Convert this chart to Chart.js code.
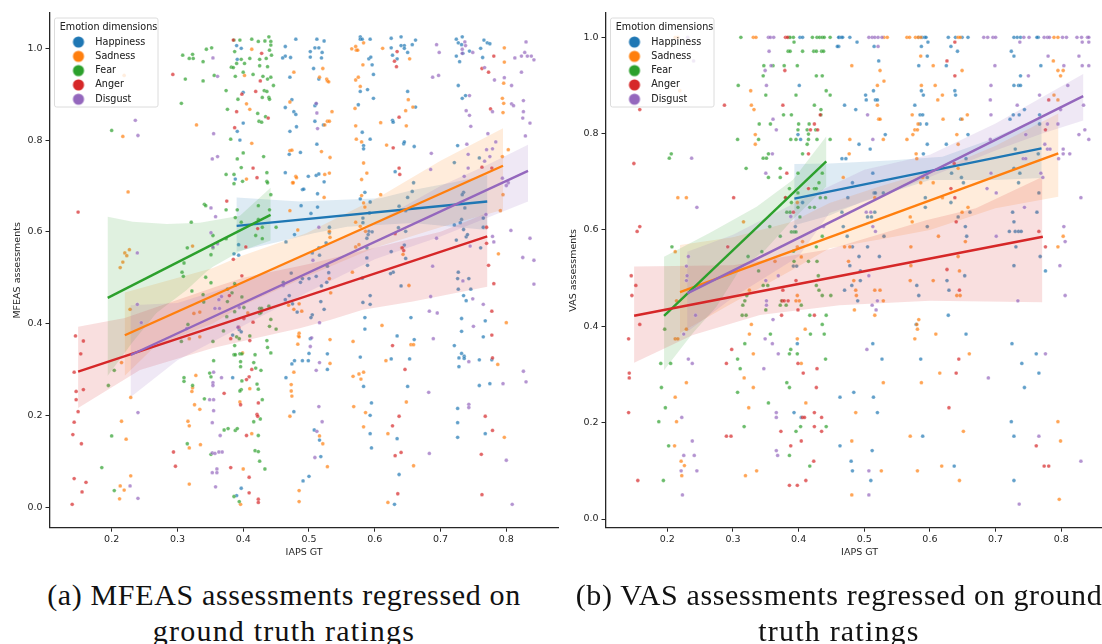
<!DOCTYPE html>
<html>
<head>
<meta charset="utf-8">
<script src="https://cdn.jsdelivr.net/npm/chart.js"></script>
<style>
  body { margin: 0; background: #fff; width: 1102px; height: 644px; overflow: hidden; position: relative; }
  canvas { position: absolute; top: 0; }
  #chartA { left: 0; }
  #chartB { left: 556px; }
  .caption { position: absolute; top: 577px; text-align: center; font: 30px/36px "Liberation Serif", serif; letter-spacing: 0.65px; color: #111; white-space: nowrap; }
  .caption span { letter-spacing: 1.2px; }
  #capA { left: 0; width: 568px; }
  #capB { left: 556px; width: 566px; }
</style>
</head>
<body>
<canvas id="chartA" width="563" height="565"></canvas>
<canvas id="chartB" width="562" height="565"></canvas>
<div class="caption" id="capA">(a) MFEAS assessments regressed on<br><span>ground truth ratings</span></div>
<div class="caption" id="capB">(b) VAS assessments regressed on ground<br><span>truth ratings</span></div>
<script>
const seriesNames = ['Happiness', 'Sadness', 'Fear', 'Anger', 'Disgust'];
const seriesColors = ['31,119,180', '255,127,14', '44,160,44', '214,39,40', '148,103,189'];
const xTicks = [0.2, 0.3, 0.4, 0.5, 0.6, 0.7, 0.8];
const yTicks = [0, 0.2, 0.4, 0.6, 0.8, 1];

// MFEAS panel, points
const mfeasHappiness = [[.39,1.006],[.397,1],[.391,.976],[.4,.904],[.4,.837],[.391,.819],[.395,.8],[.388,.715],[.464,1.004],[.48,1.02],[.464,.983],[.46,.979],[.472,.98],[.471,.937],[.474,.888],[.464,.871],[.477,.862],[.48,.856],[.481,.829],[.471,.819],[.47,.769],[.464,.729],[.478,.594],[.465,.578],[.393,.572],[.386,.552],[.393,.549],
[.512,1.02],[.523,1.016],[.509,1.001],[.515,1.001],[.502,.993],[.52,.991],[.502,.981],[.519,.979],[.507,.956],[.515,.933],[.509,.875],[.511,.879],[.509,.841],[.522,.833],[.512,.791],[.487,.773],[.499,.721],[.511,.723],[.515,.726],[.523,.709],[.49,.692],[.492,.693],[.513,.683],[.488,.657],[.503,.64],[.513,.654],[.531,.61],[.515,.565],[.531,.598],[.526,.576],[.516,.549],[.528,.525],[.505,.554],
[.578,1.025],[.578,1.02],[.581,1.02],[.593,1.02],[.591,.977],[.594,.981],[.596,.964],[.598,.943],[.578,.906],[.589,.91],[.598,.891],[.575,.877],[.581,.817],[.593,.802],[.583,.788],[.583,.781],[.585,.686],[.578,.672],[.593,.665],[.592,.641],[.591,.601],[.596,.6],[.582,.63],[.582,.62],[.59,.594],[.588,.586],[.588,.565],[.588,.543],[.589,.527],
[.625,1.022],[.64,1.025],[.625,1.001],[.64,1.006],[.645,1.006],[.645,1],[.657,1.008],[.662,1.018],[.65,.991],[.627,.985],[.634,.977],[.65,.906],[.662,.872],[.627,.843],[.628,.839],[.644,.792],[.645,.796],[.66,.786],[.631,.731],[.659,.707],[.657,.688],[.65,.675],[.637,.656],[.647,.646],[.636,.609],[.647,.601],[.625,.557],[.645,.571],[.647,.542],
[.724,1.02],[.733,1.025],[.727,1.012],[.732,1.008],[.724,.983],[.734,.989],[.744,.994],[.729,.971],[.727,.919],[.738,.897],[.733,.891],[.726,.788],[.721,.751],[.735,.686],[.733,.681],[.737,.652],[.732,.627],[.73,.62],[.721,.615],[.735,.605],[.739,.589],[.741,.594],[.724,.582],[.761,1],[.766,1.018],[.771,1.012],[.775,1.01],[.764,.98],[.759,.761],[.765,.63],[.765,.61],[.761,.565],
[.384,.375],[.394,.387],[.397,.382],[.384,.282],[.39,.025],[.397,.041],[.464,.452],[.47,.461],[.475,.443],[.482,.425],[.474,.312],[.478,.319],[.465,.282],[.477,.208],[.473,.51],[.461,.49],
[.53,.511],[.5,.498],[.49,.498],[.511,.503],[.527,.49],[.519,.482],[.487,.49],[.518,.448],[.523,.431],[.505,.419],[.503,.413],[.502,.367],[.5,.335],[.528,.334],[.49,.319],[.499,.319],[.528,.3],[.508,.168],[.516,.146],[.518,.11],[.5,.067],[.491,.057],
[.585,.413],[.585,.388],[.593,.461],[.582,.446],[.593,.442],[.581,.499],[.628,.512],[.624,.509],[.64,.482],[.655,.413],[.634,.373],[.66,.365],[.578,.327],[.625,.323],[.653,.323],[.583,.263],[.65,.263],[.595,.227],[.593,.2],[.593,.16],[.634,.149],[.595,.129],[.637,.071],[.63,.006],
[.727,.512],[.726,.498],[.743,.498],[.727,.475],[.746,.475],[.735,.461],[.739,.45],[.732,.411],[.732,.383],[.721,.352],[.732,.335],[.736,.329],[.736,.324],[.728,.325],[.728,.306],[.759,.321],[.778,.321],[.768,.406],[.765,.371],[.759,.265],[.775,.269],[.726,.215],[.726,.184],[.726,.152],[.768,.16]];

const mfeasSadness = [[.219,.941],[.402,.941],[.413,.998],[.217,.808],[.329,.833],[.405,.879],[.41,.867],[.413,.793],[.225,.687],[.405,.715],[.471,.777],[.477,.948],[.471,.883],[.48,.721],[.475,.707],[.471,.646],[.483,.604],[.227,.561],[.22,.554],[.223,.548],[.217,.534],[.213,.522],[.323,.569],
[.565,.999],[.571,1.004],[.572,.996],[.574,.996],[.583,1.012],[.612,1],[.582,.964],[.653,.977],[.521,.956],[.516,.937],[.527,.933],[.528,.929],[.53,.927],[.571,.931],[.575,.937],[.578,.917],[.651,.888],[.658,.872],[.647,.864],[.57,.869],[.535,.862],[.528,.841],[.531,.841],[.524,.833],[.571,.831],[.609,.838],[.648,.831],[.572,.802],[.58,.796],[.618,.789],[.474,.778],[.519,.775],[.532,.762],[.583,.75],[.481,.718],[.476,.707],[.524,.725],[.531,.728],[.588,.728],[.58,.714],[.523,.675],[.58,.679],[.609,.681],[.583,.663],[.585,.654],[.571,.621],[.578,.612],[.531,.601],[.532,.588],[.586,.601],[.576,.572],[.571,.567],[.641,.565],[.643,.551],
[.797,1.001],[.797,.97],[.796,.924],[.794,.891],[.796,.88],[.795,.86],[.803,.779],[.794,.764],[.795,.681],[.791,.646],[.788,.552],
[.228,.431],[.325,.422],[.334,.425],[.318,.367],[.334,.371],[.215,.315],[.229,.239],[.328,.287],[.323,.26],[.322,.252],[.326,.223],[.334,.213],[.316,.187],[.318,.177],[.215,.187],[.222,.148],[.335,.136],[.318,.129],[.229,.068],[.318,.05],[.213,.046],[.219,.037],[.212,.018],[.399,.336],[.41,.258],[.395,.229],[.413,.16],[.4,.083],[.396,.006],[.477,.431],[.483,.355],[.484,.373],[.477,.294],[.473,.267],[.473,.253],[.474,.242],[.471,.198],[.407,.423],
[.566,.512],[.652,.483],[.485,.379],[.485,.371],[.532,.365],[.567,.361],[.611,.396],[.655,.354],[.659,.354],[.8,.402],[.532,.313],[.567,.285],[.576,.29],[.583,.294],[.579,.279],[.568,.219],[.586,.206],[.648,.229],[.583,.175],[.62,.16],[.516,.155],[.521,.138],[.528,.088],[.659,.09],[.485,.036],[.485,.012],[.62,.01],[.617,.319],[.787,.311],[.797,.152],[.533,.467],[.531,.498],[.485,.443],[.489,.427],[.469,.44]];

const mfeasFear = [[.308,.985],[.318,.978],[.323,.987],[.324,.978],[.339,.971],[.344,.998],[.352,1.001],[.312,.933],[.339,.929],[.356,.941],[.306,.88],[.374,.908],[.376,.867],[.392,.889],[.2,.821],[.381,.802],[.4,.772],[.391,.759],[.397,.74],[.431,.764],[.374,.725],[.386,.725],[.386,.705],[.399,.71],[.436,.729],[.436,.71],[.437,.707],[.442,.681],[.341,.66],[.343,.657],[.374,.648],[.391,.648],[.423,.657],[.44,.648],[.321,.621],[.388,.631],[.397,.621],[.423,.627],[.45,.61],[.429,.61],[.419,.592],[.429,.585],[.354,.592],[.374,.585],[.315,.565],[.354,.565],[.351,.55],[.31,.532],
[.386,1.018],[.395,1.018],[.413,1.02],[.423,1.015],[.433,1.016],[.439,1.025],[.442,1.015],[.442,1.007],[.44,.996],[.387,.993],[.397,.976],[.41,.978],[.425,.976],[.435,.978],[.443,.985],[.402,.967],[.425,.962],[.437,.96],[.382,.959],[.385,.958],[.39,.967],[.4,.948],[.388,.939],[.415,.943],[.43,.939],[.437,.933],[.442,.937],[.446,.919],[.432,.908],[.436,.906],[.429,.893],[.439,.893],[.44,.889],[.422,.858],[.434,.851],[.424,.841],[.428,.839],
[.307,.512],[.309,.503],[.322,.471],[.339,.463],[.34,.447],[.343,.501],[.351,.489],[.376,.475],[.376,.448],[.383,.467],[.387,.487],[.388,.484],[.398,.458],[.401,.435],[.387,.426],[.375,.415],[.316,.398],[.306,.361],[.354,.361],[.37,.384],[.387,.352],[.39,.371],[.394,.367],[.41,.373],[.425,.433],[.428,.433],[.425,.422],[.427,.424],[.439,.438],[.442,.409],[.44,.394],[.45,.388],[.436,.363],[.437,.348],[.442,.336],[.386,.332],[.388,.332],[.395,.334],[.398,.334],[.418,.332],[.355,.319],[.396,.317],[.396,.306],[.416,.315],[.419,.303],[.427,.298],[.349,.292],[.351,.284],[.31,.282],[.31,.274],[.323,.265],[.204,.298],[.195,.265],[.421,.268],[.423,.257],[.398,.275],[.397,.256],[.395,.253],[.341,.236],[.429,.234],[.426,.192],[.416,.186],[.2,.155],[.371,.168],[.377,.171],[.388,.167],[.391,.171],[.423,.156],[.315,.138],[.351,.115],[.418,.123],[.423,.121],[.425,.1],[.433,.083],[.185,.086],[.204,.036],[.386,.023],[.394,.012]];

const mfeasAnger = [[.385,1.018],[.428,.989],[.293,.943],[.398,.9],[.419,.906],[.426,.929],[.39,.862],[.438,.848],[.387,.827],[.149,.643],[.375,.667],[.415,.739],[.421,.718],[.422,.607],[.404,.567],[.385,.54],
[.634,.993],[.63,.972],[.633,.96],[.781,.983],[.763,.956],[.773,.948],[.776,.868],[.637,.85],[.628,.783],[.637,.739],[.638,.725],[.763,.741],[.778,.739],[.77,.61],[.77,.575],[.631,.596],[.642,.565],[.644,.559],[.773,.527],
[.145,.373],[.157,.362],[.153,.334],[.143,.294],[.157,.256],[.146,.252],[.146,.234],[.149,.208],[.143,.185],[.141,.158],[.154,.138],[.143,.062],[.161,.054],[.155,.033],[.14,.006],[.294,.12],[.297,.089],[.379,.461],[.398,.504],[.381,.367],[.41,.363],[.415,.403],[.401,.411],[.393,.392],[.413,.3],[.409,.284],[.405,.278],[.371,.248],[.396,.223],[.423,.227],[.421,.202],[.422,.198],[.405,.156],[.381,.086],[.409,.065],[.409,.031],[.423,.017],[.423,.01],
[.781,.487],[.778,.427],[.778,.375],[.779,.325],[.627,.352],[.646,.3],[.637,.198],[.627,.177],[.768,.198],[.779,.167],[.631,.112],[.64,.119],[.762,.115],[.635,.029],[.763,.027]];

const mfeasDisgust = [[.354,.979],[.361,.939],[.236,.843],[.24,.81],[.355,.814],[.353,.759],[.361,.764],[.351,.652],[.358,.633],[.351,.598],[.354,.567],[.361,.574],[.239,.554],
[.694,1.008],[.698,.991],[.737,1.014],[.738,1.006],[.733,.998],[.733,.989],[.749,.991],[.83,1.014],[.828,.991],[.823,.983],[.832,.983],[.838,.983],[.813,.979],[.842,.975],[.823,.948],[.767,.958],[.688,.937],[.697,.941],[.782,.931],[.797,.936],[.808,.919],[.744,.897],[.808,.879],[.811,.875],[.826,.886],[.826,.862],[.825,.848],[.739,.864],[.744,.854],[.779,.862],[.836,.837],[.746,.83],[.772,.814],[.829,.809],[.686,.771],[.74,.791],[.742,.769],[.77,.779],[.779,.781],[.784,.796],[.775,.764],[.767,.754],[.742,.739],[.685,.736],[.736,.721],[.794,.717],[.803,.707],[.8,.701],[.511,.88],[.512,.859],[.513,.825],[.515,.61],[.807,.603],[.836,.586],[.779,.59],[.781,.578],[.694,.586],[.745,.569],[.825,.544],[.842,.538],[.688,.525],[.506,.538],[.769,.638],
[.239,.442],[.245,.402],[.24,.206],[.228,.046],[.24,.019],[.357,.433],[.364,.433],[.363,.452],[.367,.459],[.394,.435],[.367,.282],[.354,.271],[.354,.265],[.355,.294],[.349,.234],[.355,.234],[.355,.21],[.353,.184],[.365,.156],[.353,.118],[.357,.117],[.363,.12],[.368,.12],[.36,.083],[.353,.075],[.36,.075],[.358,.044],[.461,.483],[.314,.389],[.392,.392],
[.842,.486],[.734,.493],[.685,.459],[.749,.454],[.765,.442],[.683,.427],[.695,.423],[.516,.402],[.75,.394],[.504,.369],[.502,.35],[.689,.367],[.516,.315],[.511,.298],[.743,.317],[.826,.296],[.83,.273],[.795,.269],[.682,.25],[.515,.219],[.743,.224],[.743,.217],[.52,.186],[.512,.165],[.509,.108],[.683,.117],[.8,.102],[.809,.006]];

const mfeasFits = [
  [[.39,.613],[.771,.666]],
  [[.22,.3745],[.795,.744]],
  [[.194,.456],[.4416,.637]],
  [[.149,.295],[.771,.59]],
  [[.229,.3315],[.833,.733]]
];
const mfeasUpper = [
  [[.39,.675],[.486,.666],[.532,.669],[.608,.673],[.658,.691],[.72,.708],[.771,.724]],
  [[.22,.4675],[.354,.521],[.395,.546],[.496,.597],[.608,.677],[.7,.755],[.795,.826]],
  [[.194,.633],[.232,.622],[.284,.617],[.334,.62],[.395,.635],[.4416,.696]],
  [[.149,.393],[.22,.412],[.354,.478],[.4,.5],[.5,.53],[.6,.565],[.7,.6],[.771,.641]],
  [[.229,.44],[.3,.445],[.4,.49],[.5,.555],[.6,.62],[.7,.7],[.77,.745],[.833,.79]]
];
const mfeasLower = [
  [[.39,.557],[.456,.579],[.507,.597],[.558,.611],[.658,.619],[.771,.604]],
  [[.22,.286],[.268,.353],[.354,.4],[.4,.44],[.5,.505],[.6,.565],[.7,.61],[.795,.648]],
  [[.194,.286],[.232,.36],[.268,.423],[.314,.473],[.344,.513],[.354,.524],[.395,.557],[.4416,.581]],
  [[.149,.216],[.243,.299],[.354,.347],[.425,.37],[.486,.39],[.532,.408],[.582,.43],[.658,.448],[.771,.48]],
  [[.229,.24],[.3,.32],[.4,.395],[.5,.47],[.6,.54],[.7,.59],[.833,.666]]
];

// VAS panel
const vasHappiness = [[.402,1],[.406,1],[.462,1],[.461,1],[.465,1],[.467,1],[.478,1],[.583,1],[.588,1],[.592,1],[.594,1],[.628,1],[.639,1],[.649,1],[.658,1],[.728,1],[.733,1],[.738,1],[.765,1],[.763,1],
[.461,.981],[.401,.9],[.399,.798],[.403,.788],[.406,.657],[.395,.607],[.392,.525],[.397,.525],
[.459,.981],[.489,.99],[.515,.981],[.597,.99],[.587,.981],[.632,.981],[.642,.971],[.724,.971],[.728,.961],[.522,.951],[.596,.961],[.583,.941],[.625,.941],[.769,.941],[.738,.92],[.728,.9],[.735,.9],[.738,.9],[.514,.889],[.587,.889],[.638,.889],[.502,.88],[.59,.88],[.639,.88],[.503,.87],[.517,.87],[.52,.87],[.47,.859],[.577,.859],[.487,.85],[.744,.85],[.585,.839],[.589,.839],[.727,.839],[.736,.839],[.767,.839],[.722,.83],[.647,.83],[.585,.82],[.595,.82],[.767,.82],[.532,.798],[.658,.798],[.492,.778],[.596,.778],[.625,.778],[.509,.768],[.466,.748],[.472,.748],[.59,.758],[.765,.758],[.73,.768],[.655,.748],[.513,.718],[.633,.718],[.728,.728],[.737,.718],[.482,.698],[.596,.709],[.648,.709],[.651,.698],[.735,.698],[.515,.677],[.517,.677],[.529,.677],[.475,.667],[.593,.667],[.632,.657],[.766,.677],[.466,.637],[.516,.637],[.505,.627],[.511,.627],[.593,.647],[.661,.637],[.726,.637],[.763,.637],[.643,.627],[.728,.617],[.596,.607],[.654,.607],[.468,.607],[.474,.587],[.53,.587],[.656,.587],[.721,.597],[.73,.597],[.735,.597],[.739,.597],[.482,.565],[.505,.565],[.731,.565],[.492,.545],[.523,.545],[.768,.545],[.478,.526],[.728,.526],
[.398,.364],[.393,.221],[.404,.211],
[.494,.515],[.776,.515],[.653,.505],[.494,.495],[.481,.485],[.47,.475],[.58,.485],[.626,.495],[.629,.475],[.583,.464],[.49,.453],[.628,.423],[.579,.404],[.655,.384],[.513,.364],[.725,.364],[.527,.332],[.586,.332],[.762,.343],[.74,.323],[.766,.303],[.744,.273],[.484,.263],[.463,.253],[.514,.253],[.52,.221],[.724,.202],[.728,.172],[.589,.172],[.463,.152],[.512,.142],[.48,.12],[.482,.1],[.637,.11],[.51,.08],[.728,.08]];

const vasSadness = [[.212,1],[.216,1],[.331,1],[.335,1],[.53,1],[.535,1],[.565,1],[.569,1],[.578,1],[.582,1],[.586,1],[.643,1],[.646,1],[.789,1],[.795,1],
[.219,.889],[.327,.889],[.328,.859],[.332,.85],[.334,.798],[.334,.778],[.216,.667],[.229,.667],[.398,.657],[.316,.617],[.212,.555],[.398,.565],[.406,.576],[.364,.535],[.404,.544],
[.481,.941],[.524,.931],[.53,.909],[.52,.9],[.586,.961],[.605,.941],[.649,.931],[.587,.9],[.608,.9],[.619,.88],[.612,.87],[.52,.859],[.573,.839],[.657,.839],[.522,.83],[.524,.83],[.62,.83],[.649,.83],[.582,.82],[.577,.808],[.581,.808],[.574,.798],[.565,.788],[.478,.788],[.529,.788],[.641,.798],[.643,.778],[.477,.758],[.579,.758],[.58,.748],[.643,.728],[.468,.709],[.586,.698],[.589,.709],[.605,.698],[.619,.667],[.516,.667],[.658,.647],[.649,.637],[.57,.627],[.573,.617],[.613,.587],[.654,.576],[.47,.565],[.478,.565],[.571,.565],[.476,.535],[.643,.545],[.571,.526],[.788,.951],[.795,.931],[.803,.931],[.799,.92],[.789,.88],[.795,.87],[.803,.587],[.795,.565],
[.325,.475],[.398,.464],[.214,.453],[.396,.453],[.401,.453],[.328,.404],[.325,.384],[.41,.394],[.229,.394],[.212,.374],[.216,.374],[.398,.374],[.331,.343],[.404,.323],[.317,.293],[.229,.283],[.331,.273],[.212,.253],[.411,.241],[.324,.231],[.214,.202],[.211,.152],[.221,.12],[.226,.111],[.222,.09],[.336,.1],[.319,.09],
[.645,.515],[.57,.495],[.605,.495],[.484,.495],[.487,.475],[.516,.475],[.524,.475],[.488,.464],[.529,.453],[.641,.464],[.646,.464],[.485,.434],[.516,.423],[.583,.414],[.58,.404],[.581,.394],[.609,.384],[.577,.374],[.66,.343],[.615,.303],[.529,.283],[.587,.283],[.487,.221],[.795,.202],[.651,.182],[.57,.172],[.481,.162],[.799,.162],[.618,.11],[.526,.1],[.581,.1],[.645,.08],[.481,.05],[.797,.041]];

const vasFear = [[.312,1],[.385,1],[.387,1],[.392,1],[.421,1],[.428,1],[.432,1],[.436,1],[.439,1],[.448,1],
[.393,.99],[.384,.971],[.387,.971],[.406,.971],[.423,.971],[.427,.971],[.435,.971],[.438,.971],[.347,.941],[.361,.941],[.378,.941],[.398,.941],[.346,.92],[.427,.92],[.436,.92],[.308,.9],[.35,.88],[.396,.88],[.442,.889],[.448,.88],[.424,.859],[.434,.85],[.377,.839],[.389,.839],[.434,.839],[.34,.82],[.357,.82],[.4,.82],[.416,.82],[.399,.808],[.413,.808],[.426,.808],[.307,.788],[.339,.788],[.388,.788],[.396,.788],[.415,.799],[.413,.778],[.415,.788],[.428,.788],[.448,.788],[.206,.758],[.203,.749],[.346,.749],[.351,.749],[.354,.758],[.406,.758],[.32,.728],[.372,.728],[.399,.718],[.436,.718],[.354,.709],[.372,.709],[.431,.698],[.386,.686],[.424,.686],[.427,.686],[.399,.677],[.433,.667],[.441,.667],[.38,.667],[.389,.657],[.399,.647],[.417,.647],[.424,.647],[.382,.637],[.387,.637],[.402,.627],[.356,.607],[.389,.596],[.393,.596],[.396,.596],[.372,.587],[.436,.587],[.207,.565],[.427,.565],[.392,.556],[.323,.545],[.344,.555],[.393,.535],[.415,.535],[.428,.535],
[.339,.515],[.346,.485],[.353,.485],[.431,.475],[.427,.485],[.43,.505],[.436,.464],[.449,.464],[.321,.464],[.318,.453],[.315,.444],[.35,.434],[.374,.453],[.372,.444],[.381,.444],[.404,.444],[.314,.423],[.32,.423],[.417,.423],[.442,.423],[.436,.404],[.196,.394],[.357,.384],[.418,.384],[.439,.384],[.318,.364],[.388,.352],[.386,.343],[.398,.343],[.307,.332],[.441,.332],[.19,.323],[.205,.323],[.311,.312],[.382,.283],[.386,.273],[.191,.273],[.307,.263],[.354,.241],[.197,.231],[.187,.202],[.317,.192],[.403,.192],[.442,.192],[.396,.182],[.202,.152],[.386,.132],[.417,.11],[.194,.08]];

const vasAnger = [[.38,1],[.383,1],
[.379,.931],[.287,.859],[.158,.85],[.376,.859],[.433,.839],[.424,.82],[.418,.808],[.429,.808],[.149,.738],[.415,.758],[.382,.718],[.415,.686],[.301,.667],[.38,.667],[.392,.637],[.158,.607],[.154,.597],[.292,.565],
[.638,.99],[.626,.951],[.638,.92],[.781,.87],[.776,.808],[.637,.738],[.632,.686],[.638,.667],[.64,.617],[.766,.597],[.776,.565],[.626,.518],
[.145,.505],[.152,.485],[.146,.464],[.158,.404],[.141,.374],[.142,.303],[.142,.293],[.141,.221],[.155,.08],[.298,.352],[.29,.323],[.29,.172],[.297,.172],[.396,.495],[.376,.475],[.375,.453],[.378,.453],[.384,.453],[.399,.434],[.374,.423],[.424,.423],[.399,.323],[.407,.303],[.428,.312],[.427,.273],[.406,.211],[.409,.211],[.424,.221],[.435,.211],[.424,.192],[.373,.182],[.435,.182],[.404,.162],[.388,.152],[.423,.12],[.411,.08],[.386,.07],[.398,.07],
[.645,.475],[.644,.332],[.64,.303],[.629,.231],[.762,.152],[.774,.11],[.781,.11]];

const vasDisgust = [[.354,1],[.357,1],[.362,1],[.231,1],[.507,1],[.512,1],[.516,1],[.521,1],[.527,1],[.682,1],[.688,1],[.696,1],[.7,1],[.743,1],[.751,1],[.774,1],[.779,1],[.782,1],[.802,1],[.808,1],[.824,1],[.831,1],[.84,1],[.842,1],
[.355,.971],[.24,.951],[.358,.941],[.349,.931],[.351,.9],[.361,.83],[.366,.808],[.237,.749],[.36,.758],[.35,.718],[.245,.647],[.388,.628],[.232,.545],[.229,.525],[.438,.607],
[.737,.99],[.521,.981],[.832,.99],[.842,.99],[.78,.961],[.827,.961],[.699,.941],[.804,.941],[.832,.941],[.842,.941],[.75,.92],[.693,.9],[.81,.9],[.767,.88],[.692,.87],[.733,.859],[.834,.859],[.799,.85],[.505,.839],[.693,.839],[.779,.82],[.795,.82],[.746,.798],[.836,.808],[.827,.798],[.513,.788],[.692,.788],[.842,.788],[.775,.778],[.779,.768],[.783,.768],[.803,.768],[.803,.758],[.813,.758],[.742,.748],[.746,.748],[.796,.748],[.693,.718],[.769,.718],[.772,.709],[.687,.686],[.701,.677],[.83,.667],[.744,.647],[.503,.637],[.51,.637],[.513,.607],[.517,.597],[.804,.607],[.701,.587],[.806,.576],[.798,.526],
[.23,.505],[.229,.495],[.35,.495],[.369,.505],[.351,.453],[.351,.444],[.243,.423],[.361,.414],[.225,.384],[.349,.374],[.36,.364],[.369,.343],[.232,.332],[.238,.323],[.347,.312],[.366,.221],[.366,.211],[.222,.211],[.238,.162],[.366,.142],[.368,.132],[.225,.132],[.241,.132],[.221,.1],[.245,.1],[.223,.05],
[.507,.505],[.52,.453],[.512,.444],[.518,.434],[.734,.453],[.806,.464],[.504,.352],[.776,.343],[.689,.293],[.766,.172],[.507,.1],[.83,.12],[.507,.05],[.736,.031]];

const vasFits = [
  [[.3935,.665],[.77,.7695]],
  [[.2193,.471],[.7955,.759]],
  [[.195,.4215],[.4421,.7426]],
  [[.1494,.422],[.772,.586]],
  [[.2304,.4685],[.8335,.878]]
];
const vasUpper = [
  [[.3935,.737],[.447,.738],[.538,.744],[.619,.752],[.69,.787],[.77,.835]],
  [[.2193,.569],[.3,.585],[.39,.617],[.447,.656],[.523,.69],[.624,.731],[.7,.775],[.7955,.842]],
  [[.195,.5445],[.265,.594],[.336,.648],[.391,.704],[.442,.794]],
  [[.1494,.524],[.3,.527],[.447,.56],[.594,.62],[.67,.645],[.771,.71]],
  [[.2304,.555],[.3,.59],[.4,.66],[.5,.725],[.6,.756],[.7,.821],[.8335,.924]]
];
const vasLower = [
  [[.3935,.61],[.447,.63],[.5,.66],[.6,.704],[.7,.704],[.77,.708]],
  [[.2193,.386],[.29,.441],[.39,.517],[.447,.562],[.523,.58],[.6,.6],[.7,.645],[.7955,.669]],
  [[.195,.309],[.239,.386],[.275,.441],[.31,.517],[.35,.56],[.39,.62],[.442,.69]],
  [[.1494,.3245],[.239,.382],[.341,.4235],[.4623,.444],[.6,.453],[.771,.45]],
  [[.2304,.389],[.3,.46],[.4,.545],[.447,.635],[.523,.669],[.6,.71],[.7,.765],[.77,.8],[.8335,.827]]
];

const toXY = pts => pts.map(p => ({x: p[0], y: p[1]}));

function legendDot(rgb) {
  const c = document.createElement('canvas');
  c.width = 14;
  c.height = 14;
  const g = c.getContext('2d');
  g.fillStyle = 'rgb(' + rgb + ')';
  g.beginPath();
  g.arc(7, 7, 5.5, 0, Math.PI * 2);
  g.fill();
  return c;
}

function buildDatasets(points, fits, upper, lower) {
  const out = [];
  seriesNames.forEach((name, i) => {
    out.push({
      type: 'scatter',
      label: name,
      data: toXY(points[i]),
      backgroundColor: 'rgba(' + seriesColors[i] + ',0.7)',
      borderColor: 'rgba(255,255,255,0.6)',
      borderWidth: 0.4,
      pointRadius: 1.9,
      order: 100 - 2 * i
    });
    out.push({
      type: 'line',
      label: name + ' CI',
      data: toXY(upper[i].concat(lower[i].slice().reverse())),
      backgroundColor: 'rgba(' + seriesColors[i] + ',0.15)',
      borderWidth: 0,
      pointRadius: 0,
      fill: 'shape',
      order: 99 - 2 * i
    });
    out.push({
      type: 'line',
      label: name + ' fit',
      data: toXY(fits[i]),
      borderColor: 'rgb(' + seriesColors[i] + ')',
      borderWidth: 2.4,
      pointRadius: 0,
      fill: false,
      order: 10 - i
    });
  });
  return out;
}

// legend sits inside the axes with a matplotlib style frame over the points
const legendFrame = {
  id: 'legendFrame',
  afterLayout(chart, args, opts) {
    chart.legend.left = opts.x + 7.3;
    chart.legend.top = opts.y + 4;
    chart.legend.columnSizes[0].width = 88.4;
  },
  afterDatasetsDraw(chart, args, opts) {
    const c = chart.ctx;
    c.save();
    c.beginPath();
    c.roundRect(opts.x, opts.y, opts.w, opts.h, 2);
    c.fillStyle = 'rgba(255,255,255,0.8)';
    c.fill();
    c.strokeStyle = '#dcdcdc';
    c.lineWidth = 1;
    c.stroke();
    c.restore();
    // _draw skips the clip that draw() would put round the legend box
    chart.legend._draw();
  }
};

function makeChart(id, datasets, yName, area) {
  const dark = '#262626';
  new Chart(document.getElementById(id), {
    type: 'scatter',
    data: {datasets: datasets},
    plugins: [legendFrame],
    options: {
      responsive: false,
      animation: false,
      events: [],
      layout: {padding: {top: 13, right: area.padRight, left: 0, bottom: 0}},
      scales: {
        x: {
          type: 'linear',
          min: area.xMin,
          max: area.xMax,
          afterBuildTicks: s => { s.ticks = xTicks.map(v => ({value: v})); },
          afterFit: s => { s.height = 37.3; },
          grid: {drawOnChartArea: false, color: dark, tickLength: 4, tickWidth: 1},
          border: {color: dark, width: 1.3},
          ticks: {color: dark, font: {family: 'DejaVu Sans', size: 9.5}, padding: 2, maxRotation: 0, callback: v => v.toFixed(1)},
          title: {display: true, text: 'IAPS GT', color: dark, font: {family: 'DejaVu Sans', size: 9.5}, padding: {top: 0, bottom: 7}}
        },
        y: {
          min: area.yMin,
          max: area.yMax,
          afterBuildTicks: s => { s.ticks = yTicks.map(v => ({value: v})); },
          afterFit: s => { s.width = 49.5; },
          grid: {drawOnChartArea: false, color: dark, tickLength: 4, tickWidth: 1},
          border: {color: dark, width: 1.3},
          ticks: {color: dark, font: {family: 'DejaVu Sans', size: 9.5}, padding: 3, callback: v => v.toFixed(1)},
          title: {display: true, text: yName, color: dark, font: {family: 'DejaVu Sans', size: 9.5}, padding: {top: 12, bottom: 0}}
        }
      },
      plugins: {
        tooltip: {enabled: false},
        legendFrame: {x: 54.5, y: 18, w: 103.5, h: 89},
        legend: {
          position: 'chartArea',
          align: 'start',
          title: {display: true, text: 'Emotion dimensions', color: dark, position: 'center', font: {family: 'DejaVu Sans', size: 9.6}, padding: {top: 1, bottom: -2}},
          labels: {
            color: dark,
            font: {family: 'DejaVu Sans', size: 9.6},
            padding: 4.7,
            usePointStyle: true,
            pointStyleWidth: 24,
            boxHeight: 8,
            generateLabels: () => seriesNames.map((name, i) => ({
              text: name,
              fontColor: dark,
              pointStyle: legendDot(seriesColors[i]),
              lineWidth: 0,
              fillStyle: 'rgb(' + seriesColors[i] + ')',
              strokeStyle: 'rgb(' + seriesColors[i] + ')'
            }))
          }
        }
      }
    }
  });
}

makeChart('chartA',
  buildDatasets([mfeasHappiness, mfeasSadness, mfeasFear, mfeasAnger, mfeasDisgust], mfeasFits, mfeasUpper, mfeasLower),
  'MFEAS assessments',
  {padRight: 1, xMin: 0.1055, xMax: 0.8795, yMin: -0.045, yMax: 1.077});

makeChart('chartB',
  buildDatasets([vasHappiness, vasSadness, vasFear, vasAnger, vasDisgust], vasFits, vasUpper, vasLower),
  'VAS assessments',
  {padRight: 0, xMin: 0.1058, xMax: 0.8798, yMin: -0.018, yMax: 1.0504});
</script>
</body>
</html>
